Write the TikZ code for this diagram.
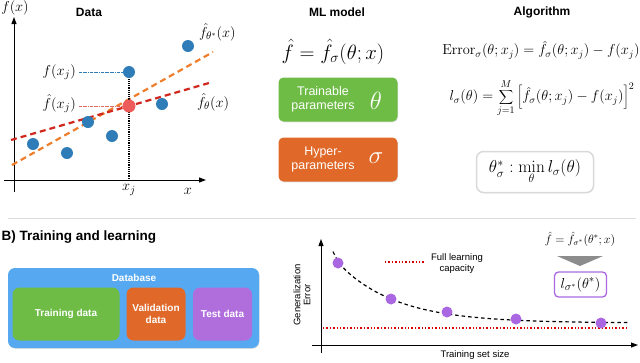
\documentclass[tikz,border=0pt]{standalone}
\usepackage[no-math]{fontspec}
\setmainfont{Liberation Sans}
\usetikzlibrary{arrows.meta, calc, positioning, shadows}
\definecolor{pointblue}{HTML}{2E7DB8}
\definecolor{pointred}{HTML}{EE5B5B}
\definecolor{fitorange}{HTML}{EE7E2C}
\definecolor{fitred}{HTML}{D0281E}
\definecolor{paramgreen}{HTML}{6EBC46}
\definecolor{hyperorange}{HTML}{E0692A}
\definecolor{dbblue}{HTML}{56A9F1}
\definecolor{testpurple}{HTML}{B06EDD}
\definecolor{errpurple}{HTML}{A968E2}
\colorlet{linecolor}{black}
\colorlet{rulegray}{black!13}
\colorlet{boxstroke}{black!15}
\colorlet{arrowgray}{black!45}
\tikzset{
  heading/.style={font=\fontsize{12}{14}\selectfont\bfseries},
  axis/.style={-{Triangle[length=7pt,width=5pt]}, line width=1pt, draw=linecolor},
  axislabel/.style={font=\fontsize{15}{17}\selectfont, inner sep=0pt},
  fitline/.style={line width=2.2pt, dash pattern=on 6pt off 4pt},
  datapoint/.style={circle, fill=pointblue, minimum size=12pt, inner sep=0pt},
  predpoint/.style={circle, fill=pointred, minimum size=13pt, inner sep=0pt},
  parambox/.style={
    rounded corners=5pt,
    minimum width=119pt,
    minimum height=44pt,
    drop shadow={opacity=0.25, shadow xshift=0.6pt, shadow yshift=-0.8pt}
  },
  boxlabel/.style={text=white, align=center, font=\fontsize{12.5}{14}\selectfont},
  bigsym/.style={text=white, font=\fontsize{25}{25}\selectfont},
  eqn/.style={font=\fontsize{14}{16}\selectfont},
  databox/.style={
    rounded corners=7pt,
    minimum height=53pt,
    text=white,
    align=center,
    font=\fontsize{10}{12}\selectfont\bfseries
  },
  note/.style={font=\fontsize{9.5}{11}\selectfont, align=center}
}

\begin{document}
\begin{tikzpicture}[x=1pt, y=-1pt]
\useasboundingbox (0,0) rectangle (640,362);

% data panel
\node[heading] (datahead) at (89,12) {Data};
\coordinate (yfoot) at (14,192);
\coordinate (ytip) at (14,17);
\coordinate (xstart) at (4,180);
\coordinate (xtip) at (206,180);
\draw[axis] (yfoot) -- (ytip);
\draw[axis] (xstart) -- (xtip);
\node[axislabel] (ylab) at (15,8) {$f(x)$};
\node[axislabel] (xlab) at (188,191) {$x$};
\node[axislabel] (xjlab) at (129,190) {$x_j$};

\coordinate (orangestart) at (12,165);
\coordinate (orangeend) at (213,52);
\coordinate (redstart) at (11,140);
\coordinate (redend) at (209,83);
\draw[fitline, fitorange] (orangestart) -- (orangeend);
\draw[fitline, fitred] (redstart) -- (redend);
\node[axislabel, anchor=west] (bestlab) at (199,32) {$\hat f_{\theta^*}(x)$};
\node[axislabel, anchor=west] (fitlab) at (197,102) {$\hat f_{\theta}(x)$};

\coordinate (fxjpos) at (129,72);
\coordinate (xjfoot) at (129,180);
\draw[densely dotted, line width=1.2pt] (fxjpos) -- (xjfoot);
\foreach \px/\py in {33/144, 67/153, 88/122, 112/136, 162/104, 188/46}
  \node[datapoint] at (\px,\py) {};
\node[datapoint] (fxj) at (fxjpos) {};
\node[predpoint] (fhatxj) at (129,106) {};

\node[axislabel, anchor=east] (fxjlab) at (76,72) {$f(x_j)$};
\node[axislabel, anchor=east] (fhatlab) at (76,104) {$\hat f(x_j)$};
\draw[pointblue, densely dash dot, line width=0.6pt] ([xshift=3pt]fxjlab.east) -- (fxj.west);
\draw[fitred!70, densely dash dot, line width=0.5pt] ([xshift=3pt]fhatlab.east |- fhatxj) -- (fhatxj.west);

% model panel
\node[heading] (modelhead) at (337,12) {ML model};
\node[font=\fontsize{21}{24}\selectfont] (modeleq) at (333,52) {$\hat f = \hat f_\sigma(\theta; x)$};
\node[parambox, fill=paramgreen] (trainable) at (338,99.5) {};
\node[boxlabel] (trainlab) at ($(trainable.center)+(-15,0)$) {Trainable\\parameters};
\node[bigsym] (thetasym) at ($(trainable.center)+(38,1)$) {$\theta$};
\node[parambox, fill=hyperorange] (hyper) at (338,159.5) {};
\node[boxlabel] (hyperlab) at ($(hyper.center)+(-15,0)$) {Hyper-\\parameters};
\node[bigsym] (sigmasym) at ($(hyper.center)+(38,-1)$) {$\sigma$};

% algorithm panel
\node[heading] (algohead) at (542,12) {Algorithm};
\node[eqn] (erroreq) at (541,50) {$\mathrm{Error}_\sigma(\theta; x_j) = \hat f_\sigma(\theta; x_j) - f(x_j)$};
\node[eqn] (losseq) at (542,98) {$\displaystyle l_\sigma(\theta) = \sum_{j=1}^{M} \left[ \hat f_\sigma(\theta; x_j) - f(x_j) \right]^2$};
\node[font=\fontsize{17}{19}\selectfont, draw=boxstroke, line width=1.5pt, rounded corners=7pt, fill=white,
  minimum width=117pt, minimum height=41pt, inner sep=2pt,
  drop shadow={opacity=0.15, shadow xshift=0.5pt, shadow yshift=-0.8pt}] (minbox) at (535,172)
  {$\theta_\sigma^* : \displaystyle\min_\theta l_\sigma(\theta)$};

\coordinate (ruleleft) at (8,218);
\coordinate (ruleright) at (636,218);
\draw[rulegray, line width=1pt] (ruleleft) -- (ruleright);

% training panel
\node[font=\fontsize{13.5}{16}\selectfont\bfseries, anchor=west] (trainhead) at (-2,237) {B) Training and learning};
\node[databox, fill=dbblue, minimum width=251pt, minimum height=80pt,
  drop shadow={opacity=0.25, shadow xshift=0.6pt, shadow yshift=-0.8pt}] (database) at (133.5,308) {};
\node[databox] (dblab) at (134,278) {Database};
\node[databox, fill=paramgreen, minimum width=107pt] (traindata) at (66,314) {Training data};
\node[databox, fill=hyperorange, minimum width=59pt] (valdata) at (156,314) {Validation\\data};
\node[databox, fill=testpurple, minimum width=59pt] (testdata) at (222.5,314) {Test data};

\coordinate (gyfoot) at (321,353);
\coordinate (gytip) at (321,239);
\coordinate (gxstart) at (312,345);
\coordinate (gxtip) at (638,345);
\draw[axis, line width=0.9pt] (gyfoot) -- (gytip);
\draw[axis, line width=0.9pt] (gxstart) -- (gxtip);
\node[note] (sizelab) at (475,355) {Training set size};
\node[note, rotate=90, font=\fontsize{9.5}{10}\selectfont] (errlab) at (302,295) {Generalization\\Error};

\coordinate (capleft) at (323,328);
\coordinate (capright) at (627,328);
\draw[red!85!black, dotted, line width=1.4pt] (capleft) -- (capright);
\draw[dashed, line width=1.2pt, dash pattern=on 3.5pt off 3pt, domain=333:628, samples=70]
  plot (\x, {323-60*exp(-(\x-338)/58)-6*exp(-(\x-333)/4)});
\foreach \px/\py in {338/263, 391/299, 447/312, 516/319, 601/323}
  \node[circle, fill=errpurple, minimum size=11pt, inner sep=0pt] at (\px,\py) {};

\node[note] (caplab) at (457,264) {Full learning\\capacity};
\coordinate (legstart) at (385,262);
\draw[red!85!black, dotted, line width=1.4pt] (legstart) -- ([xshift=-4pt]caplab.west |- legstart);

\node[font=\fontsize{11.5}{13}\selectfont] (besteq) at (580,239) {$\hat f = \hat f_{\sigma^*}(\theta^*; x)$};
\fill[arrowgray] (557,256) -- (603,256) -- (580,266) -- cycle;
\node[draw=errpurple, line width=1.3pt, rounded corners=4pt, minimum width=52pt, minimum height=25pt,
  font=\fontsize{15}{17}\selectfont] (lossbox) at (580.5,284.5) {$l_{\sigma^*}(\theta^*)$};
\end{tikzpicture}
\end{document}
